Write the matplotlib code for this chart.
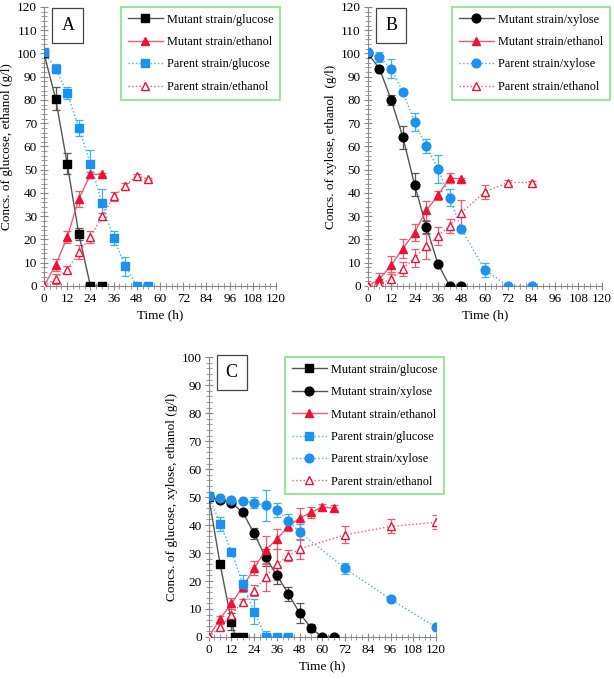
import matplotlib
matplotlib.use("Agg")
import matplotlib.pyplot as plt
from matplotlib.ticker import MultipleLocator

plt.rcParams['font.family'] = ['Liberation Serif', 'DejaVu Serif']

# ---------------- Panel A data ----------------
tA_mg = [0, 6, 12, 18, 24, 30]
A_mut_glc = [100, 80.5, 52.5, 22.3, 0, 0]
A_mut_glc_err = [0, 5, 4.5, 2.5, 0, 0]
tA_me = [0, 6, 12, 18, 24, 30]
A_mut_eth = [0, 9, 21, 37.5, 48, 48]
A_mut_eth_err = [0, 2.5, 2.5, 3.5, 1, 0.5]
tA_p = [0, 6, 12, 18, 24, 30, 36, 42, 48, 54]
A_par_glc = [100.5, 93.5, 83, 68, 52.5, 35.5, 20.5, 8.5, 0, 0]
A_par_glc_err = [0, 2, 2.5, 3.5, 6, 6, 3, 4, 0, 0]
A_par_eth = [0, 3, 7, 14.5, 21, 30, 38.5, 43, 47.5, 46]
A_par_eth_err = [0, 2, 1.5, 3, 2.5, 1.5, 2, 1.5, 0.5, 0.5]

# ---------------- Panel B data ----------------
tB_m = [0, 6, 12, 18, 24, 30, 36, 42, 48]
B_mut_xyl = [100, 93.5, 80, 64, 43.5, 25.5, 9.5, 0, 0]
B_mut_xyl_err = [0, 1, 2, 5, 5, 2.5, 0.5, 0, 0]
B_mut_eth = [0, 3, 9, 16, 23, 32.5, 39, 46.5, 46]
B_mut_eth_err = [0, 2.5, 4, 4, 3.5, 4, 2, 2, 0.5]
tB_p = [0, 6, 12, 18, 24, 30, 36, 42, 48, 60, 72, 84]
B_par_xyl = [100.5, 98.5, 93.5, 83.5, 70.5, 60, 50.5, 38, 24.5, 7, 0, 0]
B_par_xyl_err = [0, 2, 4, 1, 4, 3, 6, 3.5, 1, 3, 0, 0]
B_par_eth = [0, 1, 3, 7.5, 12, 17, 21.5, 26, 31.5, 40.5, 44.5, 44.5]
B_par_eth_err = [0, 2, 3, 3, 4, 5.5, 4, 3, 5.5, 3, 1, 0.5]

# ---------------- Panel C data ----------------
tC_mg = [0, 6, 12, 14, 18]
C_mut_glc = [50, 26, 5.5, 0, 0]
C_mut_glc_err = [0, 1, 3, 0, 0]
tC_mx = [0, 6, 12, 18, 24, 30, 36, 42, 48, 54, 60, 66]
C_mut_xyl = [50, 49, 48, 44.5, 37, 28.5, 22, 15.5, 8.5, 3.2, 0, 0]
C_mut_xyl_err = [0, 0.5, 1, 1, 2, 3, 3, 2.5, 3.5, 1.5, 0, 0]
C_mut_eth = [0, 6.5, 12, 18, 24.5, 31, 35, 39.5, 42.5, 44.5, 46.5, 46]
C_mut_eth_err = [0, 1, 2, 1, 2.5, 5, 3.5, 1.5, 3.5, 2, 1, 1]
tC_pg = [0, 6, 12, 18, 24, 30, 36, 42]
C_par_glc = [50.5, 40.5, 30.5, 19, 9, 0, 0, 0]
C_par_glc_err = [0, 2.5, 1, 3, 4.5, 2, 0, 0]
tC_p = [0, 6, 12, 18, 24, 30, 36, 42, 48, 72, 96, 120]
C_par_xyl = [50.5, 49.5, 49, 48.5, 48, 47, 45.5, 41.5, 37.5, 24.5, 13.5, 3.5]
C_par_xyl_err = [0, 0.5, 0.5, 0.5, 2, 5.5, 2.5, 2.5, 3, 2, 0.5, 0.5]
C_par_eth = [0, 3.5, 8, 12.5, 16.5, 21.5, 26, 29, 31.5, 36.5, 39.5, 41]
C_par_eth_err = [0, 1, 2, 1, 2, 5, 5.5, 2, 3.5, 3, 2.5, 2.5]

xticks = list(range(0, 121, 12))

BLACK_M, BLACK_L = '#000000', '#555555'
RED_M, RED_L = '#ee1133', '#f25a6e'
BLUE_M, BLUE_L = '#1e90f0', '#3cb4e6'

fig = plt.figure(figsize=(6.14, 6.79), dpi=100)


def series(ax, t, y, e, marker, mcolor, lcolor, ls, label, filled=True, ms=6.3):
    ax.errorbar(t, y, yerr=e, fmt='none', ecolor=lcolor, elinewidth=0.9,
                capsize=3, capthick=0.9, zorder=2)
    ax.plot(t, y, ls=ls, color=lcolor, lw=1.0, marker=marker, ms=ms,
            mfc=mcolor if filled else 'white', mec=mcolor, mew=1.0,
            label=label, zorder=3)


def style(ax, ymax, ylabel, letter, legpos):
    ax.set_xlim(0, 120)
    ax.set_ylim(0, ymax)
    ax.set_xticks(xticks)
    ax.set_yticks(list(range(0, ymax + 1, 10)))
    ax.xaxis.set_minor_locator(MultipleLocator(3))
    ax.yaxis.set_minor_locator(MultipleLocator(2))
    for s in ['top', 'right']:
        ax.spines[s].set_visible(False)
    for s in ['left', 'bottom']:
        ax.spines[s].set_color('#888888')
    ax.tick_params(which='major', direction='inout', length=6, color='#888888',
                   labelsize=9.5, pad=2)
    ax.tick_params(which='minor', direction='inout', length=4, color='#888888')
    ax.set_xlabel('Time (h)', fontsize=9.5, labelpad=3)
    ax.set_ylabel(ylabel, fontsize=9.5, labelpad=3)
    ax.text(legpos[0], legpos[1], letter, transform=ax.transAxes, fontsize=13,
            ha='center', va='center',
            bbox=dict(boxstyle='square,pad=0.5', fc='white', ec='#444444', lw=0.9))


# ----- Panel A -----
axA = fig.add_axes([0.0717, 0.5788, 0.378, 0.411])
series(axA, tA_mg, A_mut_glc, A_mut_glc_err, 's', BLACK_M, BLACK_L, '-', 'Mutant strain/glucose')
series(axA, tA_me, A_mut_eth, A_mut_eth_err, '^', RED_M, RED_L, '-', 'Mutant strain/ethanol')
series(axA, tA_p, A_par_glc, A_par_glc_err, 's', BLUE_M, BLUE_L, ':', 'Parent strain/glucose')
series(axA, tA_p, A_par_eth, A_par_eth_err, '^', RED_M, RED_L, ':', 'Parent strain/ethanol', filled=False)
style(axA, 120, 'Concs. of glucose, ethanol (g/l)', 'A', (0.103, 0.934))

# ----- Panel B -----
axB = fig.add_axes([0.599, 0.5788, 0.381, 0.411])
series(axB, tB_m, B_mut_xyl, B_mut_xyl_err, 'o', BLACK_M, BLACK_L, '-', 'Mutant strain/xylose')
series(axB, tB_m, B_mut_eth, B_mut_eth_err, '^', RED_M, RED_L, '-', 'Mutant strain/ethanol')
series(axB, tB_p, B_par_xyl, B_par_xyl_err, 'o', BLUE_M, BLUE_L, ':', 'Parent strain/xylose')
series(axB, tB_p, B_par_eth, B_par_eth_err, '^', RED_M, RED_L, ':', 'Parent strain/ethanol', filled=False)
style(axB, 120, 'Concs. of xylose, ethanol  (g/l)', 'B', (0.10, 0.934))

# ----- Panel C -----
axC = fig.add_axes([0.340, 0.0619, 0.370, 0.412])
series(axC, tC_mg, C_mut_glc, C_mut_glc_err, 's', BLACK_M, BLACK_L, '-', 'Mutant strain/glucose')
series(axC, tC_mx, C_mut_xyl, C_mut_xyl_err, 'o', BLACK_M, BLACK_L, '-', 'Mutant strain/xylose')
series(axC, tC_mx, C_mut_eth, C_mut_eth_err, '^', RED_M, RED_L, '-', 'Mutant strain/ethanol')
series(axC, tC_pg, C_par_glc, C_par_glc_err, 's', BLUE_M, BLUE_L, ':', 'Parent strain/glucose')
series(axC, tC_p, C_par_xyl, C_par_xyl_err, 'o', BLUE_M, BLUE_L, ':', 'Parent strain/xylose')
series(axC, tC_p, C_par_eth, C_par_eth_err, '^', RED_M, RED_L, ':', 'Parent strain/ethanol', filled=False)
style(axC, 100, 'Concs. of glucose, xylose, ethanol (g/l)', 'C', (0.101, 0.946))


def legend(ax, bbox):
    leg = ax.legend(loc='upper left', bbox_to_anchor=bbox, bbox_transform=fig.transFigure,
                    fontsize=8.8, frameon=True, fancybox=False, handlelength=2.9,
                    labelspacing=0.85, borderpad=0.55, handletextpad=0.3,
                    borderaxespad=0)
    leg.get_frame().set_edgecolor('#66dd66')
    leg.get_frame().set_linewidth(1.2)
    leg.set_zorder(5)


legend(axA, (121 / 614, 1 - 7 / 679))
legend(axB, (452 / 614, 1 - 7 / 679))
legend(axC, (285 / 614, 1 - 357 / 679))

fig.savefig('out.png', dpi=100)
